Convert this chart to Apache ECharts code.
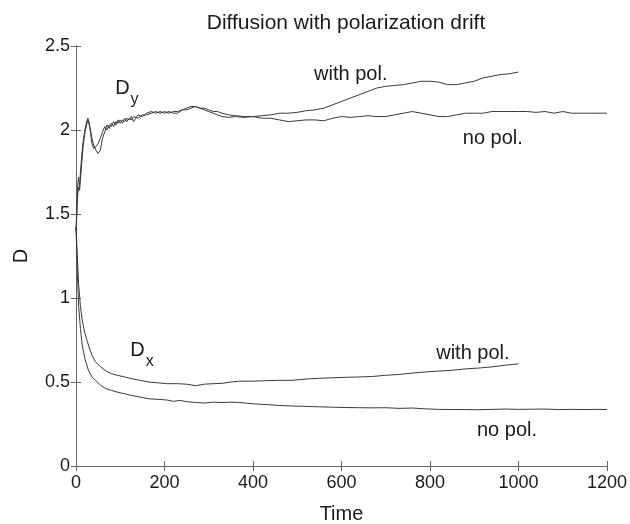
<!DOCTYPE html>
<html>
<head>
<meta charset="utf-8">
<script src="https://cdn.jsdelivr.net/npm/echarts@6/dist/echarts.min.js"></script>
<style>html,body{margin:0;padding:0;background:#fff}#c{width:630px;height:524px}</style>
</head>
<body>
<div id="c"></div>
<script>
// ---- data ----
var title = 'Diffusion with polarization drift';
var xTicks = [0, 200, 400, 600, 800, 1000, 1200];
var yTicks = [0, 0.5, 1, 1.5, 2, 2.5];

var tDxWith = [0,3,6,10,14,20,28,36,44,56,68,80,93,110,125,145,165,185,205,230,250,270,290,310,330,350,370,400,430,460,490,520,550,580,610,640,670,700,730,760,790,820,850,880,910,940,970,1000];
var dxWith  = [1.42,1.25,1.08,0.95,0.87,0.79,0.72,0.66,0.62,0.59,0.565,0.55,0.54,0.53,0.52,0.51,0.50,0.495,0.49,0.49,0.487,0.478,0.487,0.49,0.492,0.50,0.505,0.505,0.508,0.51,0.51,0.518,0.522,0.525,0.528,0.53,0.533,0.54,0.545,0.553,0.56,0.565,0.57,0.578,0.583,0.59,0.60,0.608];

var tDxNo = [0,3,6,10,14,20,28,36,44,56,68,80,93,110,125,145,165,185,205,220,235,250,270,290,310,330,350,370,400,430,460,490,520,550,580,610,640,670,700,730,760,790,820,850,880,910,940,970,1000,1030,1060,1090,1120,1150,1180,1200];
var dxNo  = [1.42,1.15,0.95,0.82,0.72,0.64,0.57,0.53,0.51,0.48,0.46,0.45,0.44,0.43,0.42,0.41,0.40,0.397,0.393,0.385,0.39,0.383,0.378,0.375,0.38,0.378,0.38,0.378,0.37,0.366,0.36,0.357,0.355,0.352,0.35,0.348,0.347,0.346,0.347,0.343,0.345,0.34,0.337,0.336,0.336,0.335,0.337,0.339,0.337,0.338,0.339,0.336,0.337,0.336,0.337,0.336];

var tDyNo = [0,2,4,6,8,10,13,16,20,24,27,30,33,36,40,45,50,55,60,65,70,75,80,85,90,95,100,105,110,115,120,125,130,135,140,150,160,170,180,190,200,210,220,230,240,250,260,270,280,290,300,310,320,330,345,360,380,400,420,440,460,480,500,520,540,560,580,600,620,640,660,680,700,720,740,760,780,800,820,840,860,880,900,920,940,960,980,1000,1020,1040,1060,1080,1100,1120,1140,1160,1180,1200];
var dyNo  = [1.40,1.55,1.68,1.72,1.66,1.75,1.85,1.93,2.00,2.05,2.07,2.04,1.98,1.92,1.89,1.90,1.92,1.95,1.99,2.02,2.00,2.03,2.02,2.05,2.03,2.06,2.04,2.06,2.05,2.07,2.06,2.08,2.05,2.07,2.09,2.08,2.10,2.11,2.10,2.11,2.10,2.11,2.10,2.10,2.12,2.12,2.13,2.14,2.13,2.12,2.11,2.10,2.09,2.08,2.075,2.08,2.075,2.08,2.07,2.07,2.06,2.05,2.055,2.06,2.06,2.055,2.07,2.08,2.075,2.08,2.085,2.08,2.08,2.09,2.10,2.11,2.10,2.09,2.08,2.08,2.09,2.10,2.10,2.10,2.11,2.11,2.11,2.11,2.11,2.105,2.11,2.10,2.11,2.10,2.10,2.10,2.10,2.10];

var tDyWith = [0,2,4,6,8,10,13,16,20,24,27,30,33,36,40,45,50,55,60,65,70,75,80,85,90,95,100,105,110,115,120,125,130,140,150,160,170,180,190,200,210,220,230,240,250,260,270,280,290,300,310,320,330,345,360,380,400,420,440,460,480,500,520,540,560,580,600,620,640,660,680,700,720,740,760,780,800,820,840,860,880,900,920,940,960,980,1000];
var dyWith  = [1.40,1.50,1.62,1.66,1.64,1.70,1.80,1.90,1.98,2.03,2.06,2.05,2.00,1.95,1.91,1.88,1.86,1.88,1.95,1.99,2.03,2.01,2.04,2.02,2.05,2.04,2.06,2.04,2.07,2.05,2.07,2.06,2.08,2.07,2.09,2.09,2.10,2.11,2.10,2.11,2.10,2.11,2.11,2.12,2.13,2.14,2.14,2.13,2.13,2.12,2.11,2.11,2.10,2.09,2.085,2.08,2.08,2.085,2.09,2.10,2.10,2.105,2.115,2.12,2.13,2.15,2.17,2.19,2.21,2.23,2.25,2.26,2.265,2.27,2.28,2.29,2.29,2.285,2.27,2.27,2.28,2.29,2.31,2.32,2.33,2.335,2.345];

// annotations (text centred at data coordinates)
var annotText = ['D_y', 'with pol.', 'no pol.', 'D_x', 'with pol.', 'no pol.'];
var annotT    = [115, 621, 942, 149, 897, 974];
var annotD    = [2.24, 2.33, 1.95, 0.68, 0.667, 0.214];

function pairs(ts, vs) { return ts.map(function (t, i) { return [t, vs[i]]; }); }

var lineColor = '#3a3a3a';
var textColor = '#1a1a1a';
var axisColor = '#666';
var font = 'Liberation Sans, Arial, Helvetica, sans-serif';

function lineSeries(name, ts, vs) {
  return {
    name: name, type: 'line', data: pairs(ts, vs), showSymbol: false, symbol: 'none',
    lineStyle: { color: lineColor, width: 1 }, silent: true, animation: false
  };
}

var annotData = annotText.map(function (s, i) { return { name: s, value: [annotT[i], annotD[i]] }; });

var chart = echarts.init(document.getElementById('c'), null, { renderer: 'canvas' });
var baseX = {
  type: 'value', min: xTicks[0], max: xTicks[xTicks.length - 1], interval: 200,
  splitLine: { show: false },
  axisLine: { show: true, lineStyle: { color: axisColor, width: 1 } },
  axisTick: { show: true, inside: true, length: 5, lineStyle: { color: axisColor } }
};
var baseY = {
  type: 'value', min: yTicks[0], max: yTicks[yTicks.length - 1], interval: 0.5,
  splitLine: { show: false },
  axisLine: { show: true, lineStyle: { color: axisColor, width: 1 } },
  axisTick: { show: true, inside: true, length: 5, lineStyle: { color: axisColor } }
};

chart.setOption({
  animation: false,
  backgroundColor: '#fff',
  title: {
    text: title, left: 341, top: 8, textAlign: 'center',
    textStyle: { fontFamily: font, fontSize: 21, fontWeight: 'normal', color: textColor }
  },
  grid: { left: 76, right: 23, top: 46, bottom: 58, containLabel: false, outerBoundsMode: 'none' },
  xAxis: [
    Object.assign({}, baseX, {
      position: 'bottom', name: 'Time', nameLocation: 'middle', nameGap: 38,
      nameTextStyle: { fontFamily: font, fontSize: 20, color: textColor },
      axisLabel: { show: true, margin: 8, fontFamily: font, fontSize: 18, color: textColor,
        formatter: function (v) { return String(v); } }
    }),
    Object.assign({}, baseX, { position: 'top', axisLabel: { show: false } })
  ],
  yAxis: [
    Object.assign({}, baseY, {
      position: 'left', name: 'D', nameLocation: 'middle', nameGap: 45, nameRotate: 90,
      nameTextStyle: { fontFamily: font, fontSize: 20, color: textColor },
      axisLabel: { show: true, margin: 6, fontFamily: font, fontSize: 18, color: textColor,
        formatter: function (v) { return String(v); } }
    }),
    Object.assign({}, baseY, { position: 'right', axisLabel: { show: false } })
  ],
  series: [
    lineSeries('Dy no pol.', tDyNo, dyNo),
    lineSeries('Dy with pol.', tDyWith, dyWith),
    lineSeries('Dx no pol.', tDxNo, dxNo),
    lineSeries('Dx with pol.', tDxWith, dxWith),
    {
      type: 'scatter', data: annotData, symbolSize: 0, silent: true, animation: false,
      itemStyle: { opacity: 1 },
      label: {
        show: true, position: 'inside', color: textColor, fontFamily: font, fontSize: 20,
        opacity: 1, textBorderWidth: 0,
        formatter: function (p) {
          var s = p.name;
          if (s.indexOf('_') > 0) {
            var parts = s.split('_');
            return '{m|' + parts[0] + '}{s|' + parts[1] + '}';
          }
          return s;
        },
        rich: {
          m: { fontFamily: font, fontSize: 20, color: textColor, verticalAlign: 'top', lineHeight: 22 },
          s: { fontFamily: font, fontSize: 16, color: textColor, verticalAlign: 'top', lineHeight: 16, padding: [13, 0, 0, 1] }
        }
      }
    }
  ]
});
</script>
</body>
</html>
